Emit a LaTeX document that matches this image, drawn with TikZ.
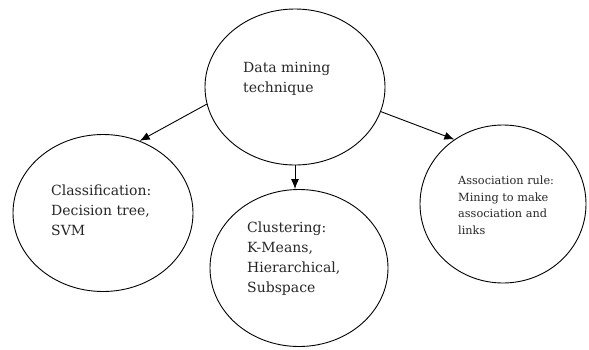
\documentclass[tikz,border=0pt]{standalone}
\usepackage{fontspec}
\setmainfont{DejaVu Serif}
\usetikzlibrary{arrows.meta,shapes.geometric}
\begin{document}
\begin{tikzpicture}[x=1pt,y=-1pt,
  bubble/.style={draw=black,line width=0.9pt,ellipse,inner sep=0pt},
  lbl/.style={anchor=base west,inner sep=0pt,align=left,text=black!85,
              font=\fontsize{14}{20}\selectfont},
  lblsmall/.style={anchor=base west,inner sep=0pt,align=left,text=black!85,
              font=\fontsize{11.3}{16.5}\selectfont},
  conn/.style={draw=black,line width=0.9pt,-{Latex[length=10pt,width=8pt]}}]
\useasboundingbox (0,0) rectangle (589,349);
\node[bubble,minimum width=180pt,minimum height=156pt] (top) at (295,87) {};
\node[bubble,minimum width=180pt,minimum height=157pt] (left) at (103,213) {};
\node[bubble,minimum width=178pt,minimum height=157pt] (mid) at (299,268) {};
\node[bubble,minimum width=166pt,minimum height=158pt] (right) at (503,204) {};
\node[lbl] (ttop) at (243,92) {Data mining\\technique};
\node[lbl] (tleft) at (51,235) {Classification:\\Decision tree,\\SVM};
\node[lbl] (tmid) at (247,292) {Clustering:\\K-Means,\\Hierarchical,\\Subspace};
\node[lblsmall] (tright) at (458,234) {Association rule:\\Mining to make\\association and\\links};
\draw[conn] (top.191) -- (left.63);
\draw[conn] (top.south) -- (top.south |- mid.north);
\draw[conn] (top.-16) -- (right.127);
\end{tikzpicture}
\end{document}
